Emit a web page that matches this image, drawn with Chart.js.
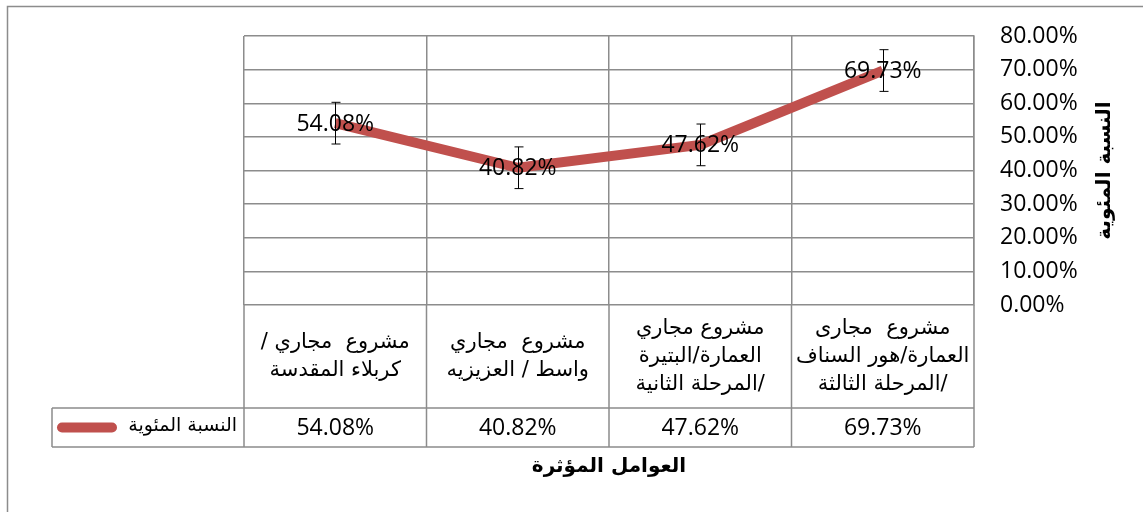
<!DOCTYPE html>
<html><head><meta charset="utf-8">
<script src="https://cdn.jsdelivr.net/npm/chart.js@4.4.1/dist/chart.umd.min.js"></script>
<style>html,body{margin:0;padding:0;background:#fff}#wrap{width:1143px;height:512px}</style>
</head><body><div id="wrap"><canvas id="c" width="1143" height="512"></canvas></div>
<script>
// ---- data ----
const categories = [
  ['مشروع  مجاري /', 'كربلاء المقدسة'],
  ['مشروع  مجاري', 'واسط / العزيزيه'],
  ['مشروع مجاري', 'العمارة/البتيرة', '/المرحلة الثانية'],
  ['مشروع  مجارى', 'العمارة/هور السناف', '/المرحلة الثالثة']
];
const seriesName = 'النسبة المئوية';
const values = [54.08, 40.82, 47.62, 69.73];
const valueLabels = ['54.08%', '40.82%', '47.62%', '69.73%'];
const errorAmounts = [6.2, 6.2, 6.2, 6.2];
const yTickLabels = ['0.00%', '10.00%', '20.00%', '30.00%', '40.00%', '50.00%', '60.00%', '70.00%', '80.00%'];
const xTitle = 'العوامل المؤثرة';
const yTitle = 'النسبة المئوية';

// ---- styles ----
const GRID = '#8c8c8c';
const LINE = '#C0504D';
const NUM_FONT = '23px "Open Sans", sans-serif';
const AR_FONT = '21px "DejaVu Sans", sans-serif';
const AR_LEG = '19px "DejaVu Sans", sans-serif';
const AR_BOLD = 'bold 20px "DejaVu Sans", sans-serif';

const tablePlugin = {
  id: 'tablePlugin',
  afterDraw(chart) {
    const ctx = chart.ctx;
    const xs = chart.scales.x, ys = chart.scales.y;
    const area = chart.chartArea;
    const n = categories.length;
    const cw = xs.getPixelForValue(1) - xs.getPixelForValue(0);
    const rowTop = area.bottom, rowMid = 408, rowBot = 447, legLeft = 52;
    ctx.save();
    // error bars
    ctx.strokeStyle = '#000'; ctx.lineWidth = 1;
    values.forEach((v, i) => {
      const x = Math.round(xs.getPixelForValue(i)) + 0.5;
      const y1 = ys.getPixelForValue(v + errorAmounts[i]);
      const y2 = ys.getPixelForValue(v - errorAmounts[i]);
      ctx.beginPath();
      ctx.moveTo(x, y1); ctx.lineTo(x, y2);
      ctx.moveTo(x - 4, y1); ctx.lineTo(x + 5, y1);
      ctx.moveTo(x - 4, y2); ctx.lineTo(x + 5, y2);
      ctx.stroke();
    });
    // data labels
    ctx.fillStyle = '#000'; ctx.font = NUM_FONT; ctx.textAlign = 'center'; ctx.textBaseline = 'middle';
    values.forEach((v, i) => {
      ctx.fillText(valueLabels[i], xs.getPixelForValue(i), ys.getPixelForValue(v) + 1);
    });
    // table lines
    ctx.strokeStyle = GRID; ctx.lineWidth = 1.5;
    ctx.beginPath();
    ctx.moveTo(area.left, rowMid); ctx.lineTo(area.right, rowMid);
    ctx.moveTo(legLeft, rowMid); ctx.lineTo(area.left, rowMid);
    ctx.moveTo(legLeft, rowBot); ctx.lineTo(area.right, rowBot);
    ctx.moveTo(legLeft, rowMid); ctx.lineTo(legLeft, rowBot);
    for (let i = 0; i <= n; i++) {
      const x = xs.getPixelForValue(i) - cw / 2;
      ctx.moveTo(x, rowTop); ctx.lineTo(x, rowBot);
    }
    ctx.stroke();
    // category labels
    ctx.direction = 'rtl';
    ctx.font = AR_FONT; ctx.textAlign = 'center'; ctx.textBaseline = 'middle';
    const lh = 28, cellMid = (rowTop + rowMid) / 2;
    categories.forEach((lines, i) => {
      const x = xs.getPixelForValue(i);
      const y0 = cellMid - (lines.length - 1) * lh / 2;
      lines.forEach((t, j) => ctx.fillText(t, x, y0 + j * lh));
    });
    // value row
    ctx.direction = 'ltr';
    ctx.font = NUM_FONT;
    const vMid = (rowMid + rowBot) / 2 + 1;
    valueLabels.forEach((t, i) => ctx.fillText(t, xs.getPixelForValue(i), vMid));
    // legend cell
    ctx.strokeStyle = LINE; ctx.lineWidth = 10; ctx.lineCap = 'round';
    ctx.beginPath(); ctx.moveTo(62, vMid - 1); ctx.lineTo(112, vMid - 1); ctx.stroke();
    ctx.direction = 'rtl'; ctx.font = AR_LEG; ctx.textAlign = 'right';
    ctx.fillText(seriesName, 237, vMid - 2);
    // x title
    ctx.font = AR_BOLD; ctx.textAlign = 'center';
    ctx.fillText(xTitle, (area.left + area.right) / 2, 467);
    // y title
    ctx.save();
    ctx.translate(1105, (area.top + area.bottom) / 2);
    ctx.rotate(-Math.PI / 2);
    ctx.fillText(yTitle, 0, 0);
    ctx.restore();
    // outer border
    ctx.direction = 'ltr';
    ctx.strokeStyle = GRID; ctx.lineWidth = 1.5; ctx.lineCap = 'butt';
    ctx.strokeRect(7.5, 6.5, 1150, 520);
    ctx.restore();
  }
};

new Chart(document.getElementById('c'), {
  type: 'line',
  data: {
    labels: categories,
    datasets: [{
      label: seriesName, data: values, borderColor: LINE, backgroundColor: LINE,
      borderWidth: 10, pointRadius: 0, tension: 0, borderJoinStyle: 'round', borderCapStyle: 'butt'
    }]
  },
  options: {
    responsive: false, animation: false, devicePixelRatio: 1,
    layout: { padding: { left: 244, top: 36, right: 0, bottom: 0 } },
    plugins: { legend: { display: false }, tooltip: { enabled: false } },
    scales: {
      x: {
        offset: true,
        grid: { offset: true, color: GRID, lineWidth: 1.5, drawTicks: false },
        border: { display: false },
        ticks: { display: false },
        afterFit(s) { s.height = 207; s.paddingLeft = 0; s.paddingRight = 0; }
      },
      y: {
        position: 'right', min: 0, max: 80,
        ticks: { stepSize: 10, padding: 26, color: '#000', font: { family: 'Open Sans', size: 23 },
                 callback: (v, i) => yTickLabels[i] },
        grid: { color: GRID, lineWidth: 1.5, drawTicks: false },
        border: { display: true, color: GRID, width: 1.5 },
        afterFit(s) { s.width = 169; s.paddingTop = 0; s.paddingBottom = 0; }
      }
    }
  },
  plugins: [tablePlugin]
});
</script>
</body></html>
